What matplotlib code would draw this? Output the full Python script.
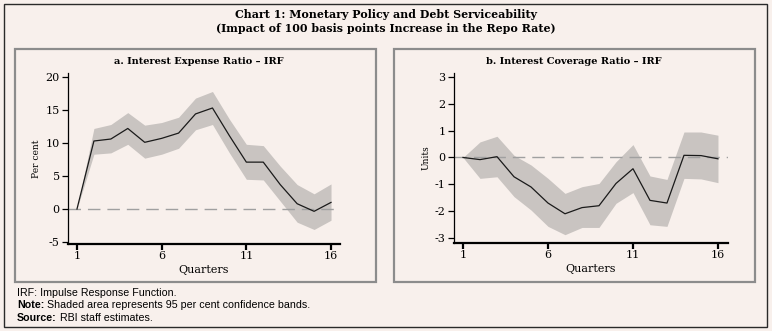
import matplotlib.pyplot as plt
from matplotlib.patches import Rectangle

quarters = list(range(1, 17))

# panel a: interest expense ratio (per cent)
ier_mid = [0, 10.3, 10.6, 12.2, 10.1, 10.7, 11.5, 14.4, 15.3, 11.1, 7.1, 7.1, 3.7, 0.8, -0.35, 1.0]
ier_lo = [0, 8.3, 8.5, 9.8, 7.7, 8.3, 9.2, 12.0, 12.8, 8.5, 4.5, 4.4, 1.2, -2.0, -3.1, -1.7]
ier_hi = [0, 12.2, 12.8, 14.6, 12.7, 13.1, 13.9, 16.8, 17.8, 13.6, 9.8, 9.6, 6.5, 3.7, 2.3, 3.8]

# panel b: interest coverage ratio (units)
icr_mid = [0, -0.08, 0.03, -0.72, -1.1, -1.7, -2.1, -1.87, -1.8, -0.97, -0.42, -1.6, -1.7, 0.08, 0.07, -0.05]
icr_lo = [0, -0.78, -0.72, -1.46, -1.96, -2.57, -2.88, -2.61, -2.61, -1.71, -1.31, -2.51, -2.57, -0.78, -0.8, -0.94]
icr_hi = [0, 0.58, 0.79, 0.08, -0.28, -0.78, -1.34, -1.09, -0.97, -0.16, 0.48, -0.69, -0.82, 0.95, 0.95, 0.83]

footer = [("", "IRF: Impulse Response Function."),
          ("Note:", "Shaded area represents 95 per cent confidence bands."),
          ("Source:", "RBI staff estimates.")]

BG = "#f8f0ec"
BAND = "#c9c4c1"
SERIF = "DejaVu Serif"
SANS = "Liberation Sans"
plt.rcParams["axes.unicode_minus"] = False

fig = plt.figure(figsize=(7.72, 3.31), dpi=100, facecolor=BG)

# outer frame and panel boxes
fig.patches.append(Rectangle((4 / 772, 1 - 327 / 331), 763 / 772, 323 / 331, transform=fig.transFigure,
                             fill=False, edgecolor="#2a2a2a", lw=1.0))
for x0, x1 in [(15, 376), (394, 755)]:
    fig.patches.append(Rectangle((x0 / 772, 1 - 282 / 331), (x1 - x0) / 772, 233 / 331,
                                 transform=fig.transFigure, fill=False, edgecolor="#8c8c8c", lw=1.6))

fig.text(0.5, 1 - 14 / 331, "Chart 1: Monetary Policy and Debt Serviceability", ha="center", va="center",
         fontsize=7.9, fontweight="bold", family=SERIF)
fig.text(0.5, 1 - 29 / 331, "(Impact of 100 basis points Increase in the Repo Rate)", ha="center", va="center",
         fontsize=7.9, fontweight="bold", family=SERIF)

renderer = fig.canvas.get_renderer()
for i, (bold, rest) in enumerate(footer):
    y = 1 - (293 + 12.5 * i) / 331
    x = 17 / 772
    if bold:
        t = fig.text(x, y, bold, fontsize=7.7, family=SANS, fontweight="bold", va="center")
        x += (t.get_window_extent(renderer).width + 3) / 772
    fig.text(x, y, rest, fontsize=7.7, family=SANS, va="center")


def panel(rect, mid, lo, hi, ylim, yticks, ylabel, title, xlim, title_x):
    ax = fig.add_axes(rect, facecolor=BG)
    ax.fill_between(quarters, lo, hi, color=BAND, lw=0)
    ax.axhline(0, color="#a0a0a0", lw=1.0, ls=(0, (9, 5)))
    ax.plot(quarters, mid, color="#1a1a1a", lw=0.9)
    ax.set_xlim(*xlim)
    ax.set_ylim(*ylim)
    ax.set_xticks([1, 6, 11, 16])
    ax.set_yticks(yticks)
    for s in ["top", "right"]:
        ax.spines[s].set_visible(False)
    ax.spines["left"].set_linewidth(0.9)
    ax.spines["bottom"].set_linewidth(1.6)
    ax.tick_params(axis="y", length=4, width=0.9, pad=2, labelsize=8)
    ax.tick_params(axis="x", length=4, width=1.6, pad=1, labelsize=8)
    for lab in ax.get_xticklabels() + ax.get_yticklabels():
        lab.set_family(SERIF)
    ax.set_xlabel("Quarters", family=SERIF, fontsize=8, labelpad=3)
    ax.set_ylabel(ylabel, family=SERIF, fontsize=6.5, labelpad=3)
    fig.text(title_x, 1 - 61 / 331, title, ha="center", va="center", fontsize=7,
             fontweight="bold", family=SERIF)
    return ax


panel([68 / 772, 1 - 244 / 331, 272 / 772, 171 / 331], ier_mid, ier_lo, ier_hi,
      (-5.3, 20.6), [-5, 0, 5, 10, 15, 20], "Per cent", "a. Interest Expense Ratio \u2013 IRF",
      (0.47, 16.53), 199 / 772)
panel([454 / 772, 1 - 243 / 331, 274 / 772, 170 / 331], icr_mid, icr_lo, icr_hi,
      (-3.19, 3.15), [-3, -2, -1, 0, 1, 2, 3], "Units", "b. Interest Coverage Ratio \u2013 IRF",
      (0.47, 16.59), 574 / 772)

fig.savefig("out.png", dpi=100, facecolor=BG)
